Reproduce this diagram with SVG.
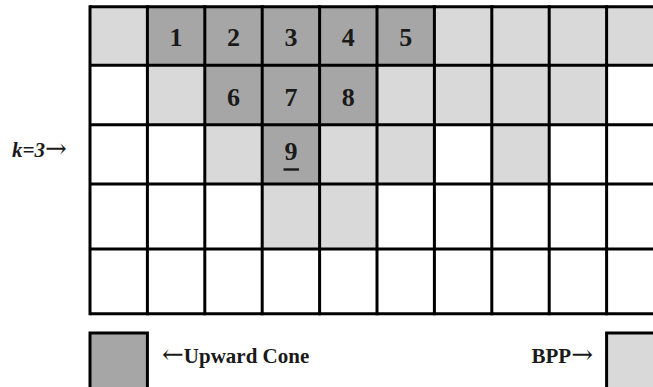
<svg xmlns="http://www.w3.org/2000/svg" width="653" height="387" viewBox="0 0 653 387">
<style>
.d{fill:#a6a6a6}
.l{fill:#d9d9d9}
.g{stroke:#000;stroke-width:3;fill:none}
.n{font-family:"Liberation Serif","Times New Roman",serif;font-weight:bold;font-size:26px;text-anchor:middle;fill:#1a1a1a}
.t{font-family:"Liberation Serif","Times New Roman",serif;font-weight:bold;font-size:21px;fill:#1a1a1a}
.a{font-family:"DejaVu Serif","DejaVu Sans",serif;font-weight:normal;font-style:normal;font-size:26px}
</style>
<rect width="653" height="387" fill="#fff"/>
<g id="cells">
<rect class="l" x="90" y="6.7" width="57.4" height="58.6"/>
<rect class="d" x="147.4" y="6.7" width="287" height="58.6"/>
<rect class="l" x="434.4" y="6.7" width="218.6" height="58.6"/>
<rect class="l" x="147.4" y="65.3" width="57.4" height="59.4"/>
<rect class="d" x="204.8" y="65.3" width="172.2" height="59.4"/>
<rect class="l" x="377" y="65.3" width="229.6" height="59.4"/>
<rect class="l" x="204.8" y="124.7" width="57.4" height="59.3"/>
<rect class="d" x="262.2" y="124.7" width="57.4" height="59.3"/>
<rect class="l" x="319.6" y="124.7" width="114.8" height="59.3"/>
<rect class="l" x="491.8" y="124.7" width="57.4" height="59.3"/>
<rect class="l" x="262.2" y="184" width="114.8" height="65"/>
</g>
<g id="grid" class="g">
<path d="M90 6.7H653M90 65.3H653M90 124.7H653M90 184H653M90 249H653M90 313.7H653"/>
<path d="M90 5.2V315.2M147.4 5.2V315.2M204.8 5.2V315.2M262.2 5.2V315.2M319.6 5.2V315.2M377 5.2V315.2M434.4 5.2V315.2M491.8 5.2V315.2M549.2 5.2V315.2M606.6 5.2V315.2"/>
</g>
<g id="numbers">
<text class="n" x="176.1" y="46">1</text>
<text class="n" x="233.5" y="46">2</text>
<text class="n" x="290.9" y="46">3</text>
<text class="n" x="348.3" y="46">4</text>
<text class="n" x="405.7" y="46">5</text>
<text class="n" x="233.5" y="105.5">6</text>
<text class="n" x="290.9" y="105.5">7</text>
<text class="n" x="348.3" y="105.5">8</text>
<text class="n" x="290.9" y="160">9</text>
<rect x="283.5" y="168.3" width="15.5" height="2.4" fill="#1a1a1a"/>
</g>
<g id="klabel">
<text class="t" x="12" y="157" font-size="24" font-style="italic">k=3<tspan class="a" font-size="28">→</tspan></text>
</g>
<g id="legend">
<rect x="90" y="333" width="57.4" height="60" class="d" stroke="#000" stroke-width="3"/>
<text class="t" x="162" y="363"><tspan class="a">←</tspan>Upward Cone</text>
<text class="t" x="593" y="363" text-anchor="end">BPP<tspan class="a">→</tspan></text>
<rect x="606.6" y="333" width="60" height="60" class="l" stroke="#000" stroke-width="3"/>
</g>
</svg>
